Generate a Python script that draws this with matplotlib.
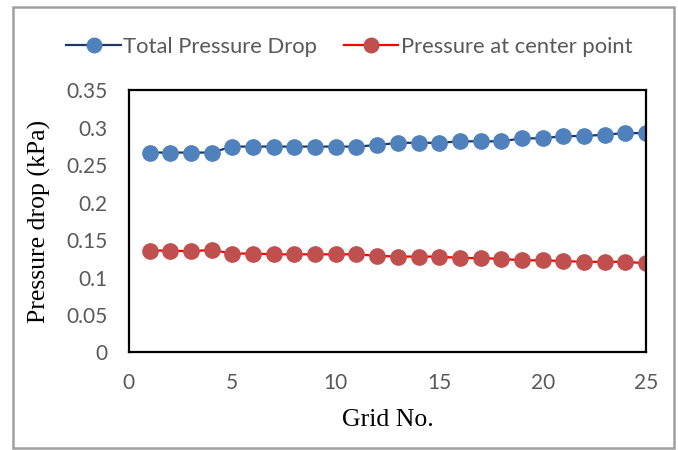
import numpy as np
import matplotlib.pyplot as plt
from matplotlib.patches import Rectangle

# grid study data
grid = np.arange(1, 26)
total_drop = [0.267, 0.267, 0.267, 0.267, 0.275, 0.275, 0.275, 0.275, 0.275, 0.275,
              0.275, 0.277, 0.280, 0.280, 0.280, 0.282, 0.282, 0.282, 0.286, 0.286,
              0.289, 0.289, 0.291, 0.293, 0.293]
center_drop = [0.136, 0.136, 0.135, 0.137, 0.132, 0.132, 0.131, 0.131, 0.131, 0.131,
               0.131, 0.129, 0.128, 0.128, 0.128, 0.126, 0.126, 0.125, 0.123, 0.123,
               0.122, 0.121, 0.121, 0.121, 0.119]

fig = plt.figure(figsize=(6.78, 4.5), dpi=100)
ax = fig.add_axes([0.190, 0.217, 0.763, 0.582])

ax.plot(grid, total_drop, '-o', color='#1F3864', lw=1.6, markersize=11,
        markerfacecolor='#4F81BD', markeredgecolor='#4F81BD', label='Total Pressure Drop')
ax.plot(grid, center_drop, '-o', color='#FF0000', lw=1.6, markersize=11,
        markerfacecolor='#C0504D', markeredgecolor='#C0504D', label='Pressure at center point')

ax.set_xlim(0, 25)
ax.set_ylim(0, 0.35)
ax.set_xticks(np.arange(0, 26, 5))
ax.set_yticks(np.arange(0, 0.351, 0.05))
ax.set_yticklabels(['0', '0.05', '0.1', '0.15', '0.2', '0.25', '0.3', '0.35'])
ax.tick_params(length=0, labelsize=15, labelcolor='#595959', pad=15)
for lab in ax.get_xticklabels() + ax.get_yticklabels():
    lab.set_fontfamily('Lato')
for s in ax.spines.values():
    s.set_color('black')
    s.set_linewidth(1.6)

ax.set_xlabel('Grid No.', family='Liberation Serif', fontsize=18.5)
ax.set_ylabel('Pressure drop (kPa)', family='Liberation Serif', fontsize=18.5)
ax.xaxis.set_label_coords(0.5, -0.215)
ax.yaxis.set_label_coords(-0.15, 0.5)

fig.legend(loc='upper center', bbox_to_anchor=(0.515, 0.962), ncol=2, frameon=False,
           prop={'family': 'Lato', 'size': 15.8}, labelcolor='#595959',
           handlelength=2.5, handletextpad=0.1, columnspacing=1.2, markerscale=0.95)

# chart border
fig.add_artist(Rectangle((13 / 678, 2 / 450), 661 / 678, 441 / 450, transform=fig.transFigure,
                         fill=False, edgecolor='#A0A0A0', lw=1.8))

fig.savefig('out.png', dpi=100)
